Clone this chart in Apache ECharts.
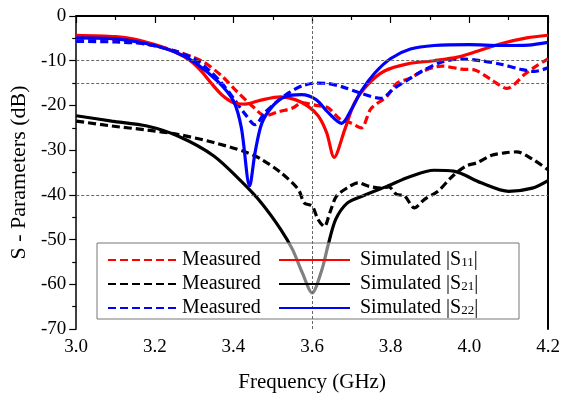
<!DOCTYPE html>
<html>
<head>
<meta charset="utf-8">
<script src="https://cdn.jsdelivr.net/npm/echarts@6/dist/echarts.min.js"></script>
<style>
  html, body { margin: 0; padding: 0; background: #fff; }
  #chart { width: 569px; height: 400px; }
</style>
</head>
<body>
<div id="chart"></div>
<script>
// Frequency axis (GHz) and S-parameter magnitudes (dB)
const xTicks = [3.0, 3.2, 3.4, 3.6, 3.8, 4.0, 4.2];
const yTicks = [0, -10, -20, -30, -40, -50, -60, -70];
const refLevelsDb = [-10, -15, -40];
const refFreqs = [3.6];

// Measured |S11|
const measS11Freq = [3.00, 3.10, 3.18, 3.25, 3.32, 3.37, 3.41, 3.45, 3.48, 3.515, 3.55, 3.575, 3.61, 3.64, 3.67, 3.70, 3.725, 3.75, 3.79, 3.815, 3.85, 3.88, 3.93, 3.98, 4.01, 4.055, 4.096, 4.14, 4.17, 4.20];
const measS11Db   = [-5.0, -5.3, -6.3, -7.8, -10.1, -13.4, -17.0, -20.3, -22.3, -21.4, -20.6, -19.4, -20.0, -20.5, -23.0, -24.0, -25.0, -20.7, -18.0, -15.1, -13.9, -12.4, -11.2, -11.9, -12.0, -14.2, -16.2, -13.1, -11.2, -9.6];

// Measured |S21|
const measS21Freq = [3.00, 3.09, 3.18, 3.26, 3.35, 3.43, 3.47, 3.52, 3.565, 3.58, 3.60, 3.615, 3.631, 3.645, 3.662, 3.69, 3.717, 3.745, 3.776, 3.795, 3.815, 3.835, 3.86, 3.886, 3.92, 3.955, 3.99, 4.02, 4.055, 4.09, 4.12, 4.16, 4.20];
const measS21Db   = [-23.5, -24.6, -25.5, -26.5, -28.3, -30.4, -32.0, -35.0, -38.8, -41.8, -42.5, -45.5, -47.1, -44.0, -40.3, -38.4, -37.3, -38.1, -38.5, -38.2, -39.9, -40.2, -42.9, -41.0, -39.2, -36.0, -33.6, -32.8, -31.2, -30.6, -30.4, -32.0, -34.4];

// Measured |S22|
const measS22Freq = [3.00, 3.10, 3.18, 3.25, 3.30, 3.34, 3.37, 3.40, 3.43, 3.455, 3.48, 3.51, 3.54, 3.575, 3.61, 3.64, 3.675, 3.725, 3.775, 3.81, 3.845, 3.88, 3.93, 3.98, 4.03, 4.08, 4.13, 4.165, 4.20];
const measS22Db   = [-5.7, -5.8, -6.3, -7.8, -9.6, -12.3, -15.0, -18.4, -22.0, -24.3, -21.6, -19.2, -17.2, -15.6, -15.0, -15.1, -15.8, -17.3, -18.4, -16.1, -14.2, -12.3, -10.3, -9.6, -10.0, -10.8, -11.9, -12.4, -11.6];

// Simulated |S11|
const simS11Freq = [3.00, 3.10, 3.15, 3.20, 3.25, 3.29, 3.32, 3.343, 3.37, 3.40, 3.43, 3.47, 3.52, 3.557, 3.59, 3.616, 3.637, 3.656, 3.683, 3.708, 3.742, 3.784, 3.843, 3.91, 3.97, 4.02, 4.08, 4.146, 4.20];
const simS11Db   = [-4.3, -4.6, -5.2, -6.4, -8.0, -10.0, -12.5, -15.0, -17.6, -19.4, -19.7, -18.8, -18.1, -18.7, -20.2, -22.4, -26.1, -31.6, -25.4, -19.4, -15.3, -12.3, -10.7, -10.0, -9.2, -7.9, -6.2, -4.9, -4.3];

// Simulated |S21|
const simS21Freq = [3.00, 3.09, 3.18, 3.26, 3.35, 3.42, 3.47, 3.52, 3.55, 3.575, 3.60, 3.625, 3.64, 3.66, 3.69, 3.73, 3.79, 3.85, 3.91, 3.96, 4.03, 4.10, 4.16, 4.20];
const simS21Db   = [-22.3, -23.5, -24.6, -26.9, -31.3, -37.0, -41.7, -47.7, -52.2, -57.4, -61.9, -56.7, -51.5, -45.5, -41.8, -40.2, -38.1, -35.9, -34.5, -34.7, -37.3, -39.2, -38.5, -36.8];

// Simulated |S22|
const simS22Freq = [3.00, 3.10, 3.18, 3.25, 3.30, 3.36, 3.40, 3.42, 3.441, 3.455, 3.472, 3.50, 3.53, 3.573, 3.61, 3.64, 3.675, 3.70, 3.725, 3.76, 3.80, 3.85, 3.91, 4.00, 4.08, 4.15, 4.20];
const simS22Db   = [-4.9, -5.1, -6.2, -8.0, -10.3, -14.6, -19.0, -25.0, -38.0, -30.5, -24.0, -20.1, -18.1, -17.6, -18.7, -21.5, -24.0, -20.9, -16.8, -12.7, -9.5, -7.4, -6.6, -6.4, -6.6, -6.5, -5.9];

const zip = (fs, vs) => fs.map((f, i) => [f, vs[i]]);

const RED = '#ff0000', BLACK = '#000000', BLUE = '#0000ff';
const SERIF = '"Liberation Serif", "Times New Roman", serif';
const DASH = [8, 4];

function curve(name, freq, db, color, dashed) {
  return {
    name: name,
    type: 'line',
    data: zip(freq, db),
    showSymbol: false,
    symbol: 'none',
    smooth: 0.3,
    lineStyle: { color: color, width: 3.2, type: dashed ? DASH : 'solid' },
    itemStyle: { color: color },
    emphasis: { disabled: true },
    z: dashed ? 2 : 3
  };
}

const series = [
  curve('meas11', measS11Freq, measS11Db, RED, true),
  curve('meas21', measS21Freq, measS21Db, BLACK, true),
  curve('meas22', measS22Freq, measS22Db, BLUE, true),
  curve('sim11', simS11Freq, simS11Db, RED, false),
  curve('sim21', simS21Freq, simS21Db, BLACK, false),
  curve('sim22', simS22Freq, simS22Db, BLUE, false)
];

// dashed gray reference lines
series[0].markLine = {
  silent: true,
  symbol: 'none',
  label: { show: false },
  lineStyle: { color: '#666', width: 1, type: [3, 2] },
  data: refLevelsDb.map(v => ({ yAxis: v })).concat(refFreqs.map(v => ({ xAxis: v })))
};

const legendText = {
  meas11: 'Measured', meas21: 'Measured', meas22: 'Measured',
  sim11: ' Simulated |S{sub|11}|', sim21: ' Simulated |S{sub|21}|', sim22: ' Simulated |S{sub|22}|'
};

const legendStyle = {
  fontFamily: SERIF, fontSize: 20, color: '#000', lineHeight: 20,
  rich: { sub: { fontFamily: SERIF, fontSize: 13, lineHeight: 20, padding: [6, 0, 0, 0], color: '#000' } }
};

const legendCommon = {
  orient: 'vertical', top: 250, z: 6,
  itemHeight: 14, itemGap: 4, padding: 0,
  formatter: n => legendText[n],
  textStyle: legendStyle,
  itemStyle: { opacity: 0 },
  selectedMode: false
};

const chart = echarts.init(document.getElementById('chart'), null, { renderer: 'canvas' });
chart.setOption({
  animation: false,
  backgroundColor: '#fff',
  grid: { left: 73, right: 21, top: 16, bottom: 71, containLabel: false },
  xAxis: [{
    type: 'value', min: xTicks[0], max: xTicks[xTicks.length - 1], interval: 0.2,
    name: 'Frequency (GHz)', nameLocation: 'middle', nameGap: 43,
    nameTextStyle: { fontFamily: SERIF, fontSize: 21, color: '#000' },
    axisLine: { lineStyle: { color: '#000', width: 1.5 } },
    axisTick: { length: 7, lineStyle: { color: '#000', width: 1.2 } },
    minorTick: { show: true, splitNumber: 2, length: 4, lineStyle: { color: '#000', width: 1.2 } },
    axisLabel: { fontFamily: SERIF, fontSize: 19, color: '#000', margin: 9, formatter: v => v.toFixed(1) },
    splitLine: { show: false }
  }, {
    type: 'value', position: 'top', min: xTicks[0], max: xTicks[xTicks.length - 1],
    axisLine: { lineStyle: { color: '#000', width: 2 } },
    axisTick: { show: false }, axisLabel: { show: false }, splitLine: { show: false }
  }],
  yAxis: [{
    type: 'value', min: yTicks[yTicks.length - 1], max: yTicks[0], interval: 10,
    name: 'S - Parameters (dB)', nameLocation: 'middle', nameGap: 41,
    nameTextStyle: { fontFamily: SERIF, fontSize: 22, color: '#000' },
    axisLine: { lineStyle: { color: '#000', width: 1.5 } },
    axisTick: { length: 7, lineStyle: { color: '#000', width: 1.2 } },
    minorTick: { show: true, splitNumber: 2, length: 4, lineStyle: { color: '#000', width: 1.2 } },
    axisLabel: { fontFamily: SERIF, fontSize: 19, color: '#000', margin: 10 },
    splitLine: { show: false }
  }, {
    type: 'value', position: 'right', min: yTicks[yTicks.length - 1], max: yTicks[0],
    axisLine: { show: true, lineStyle: { color: '#000', width: 2 } },
    axisTick: { show: false }, axisLabel: { show: false }, splitLine: { show: false }
  }],
  graphic: [{
    type: 'rect', z: 5, silent: true,
    shape: { x: 97, y: 243, width: 422, height: 76 },
    style: { fill: 'rgba(255,255,255,0.5)', stroke: '#777', lineWidth: 1 }
  }],
  legend: [
    Object.assign({}, legendCommon, { left: 107, itemWidth: 69, data: ['meas11', 'meas21', 'meas22'] }),
    Object.assign({}, legendCommon, { left: 278, itemWidth: 71, data: ['sim11', 'sim21', 'sim22'] })
  ],
  series: series
});
</script>
</body>
</html>
